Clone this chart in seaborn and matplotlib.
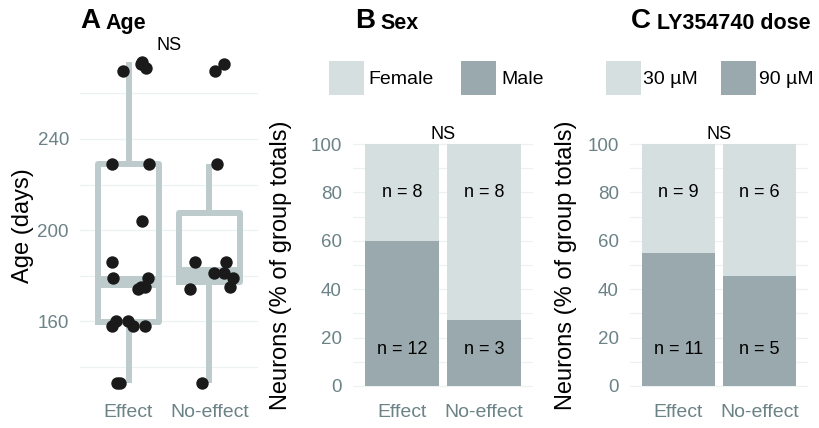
import matplotlib.pyplot as plt
import seaborn as sns
import pandas as pd
from matplotlib.patches import Patch
from matplotlib.ticker import MultipleLocator

"""
age, sex and dose of neurons with / without an effect
"""

GROUPS = ["Effect", "No-effect"]

# panel A: age (days) of every neuron, with the horizontal jitter seen in the figure
AGE_EFFECT = [133, 133, 158, 158, 158, 160, 160, 174, 175, 175,
              179, 179, 186, 204, 229, 229, 270, 271, 273, 274]
JITTER_EFFECT = [-0.14, -0.11, -0.20, 0.05, 0.20, -0.16, -0.01, 0.12, 0.20, 0.16,
                 -0.19, 0.24, -0.20, 0.17, -0.21, 0.25, -0.07, 0.21, 0.15, 0.17]
AGE_NO_EFFECT = [133, 174, 175, 179, 181, 181, 186, 186, 229, 270, 273]
JITTER_NO_EFFECT = [-0.09, -0.24, 0.25, 0.29, 0.06, 0.18, -0.18, 0.20, 0.09, 0.07, 0.18]
AGE_TICKS = [160, 200, 240]

# panel B: neuron counts by sex
SEX_LABELS = ["Female", "Male"]
SEX_FEMALE = [8, 8]
SEX_MALE = [12, 3]

# panel C: neuron counts by LY354740 dose
DOSE_LABELS = ["30 µM", "90 µM"]
DOSE_30 = [9, 6]
DOSE_90 = [11, 5]

LIGHT = "#d6dfdf"
DARK = "#99a9ad"
BOX = "#bdcbcc"
TICK = "#6b8287"
GRID = "#edf1f1"
W, H = 820, 428


def style_axis(ax):
    for s in ax.spines.values():
        s.set_visible(False)
    ax.grid(axis="y", which="both", color=GRID, linewidth=0.9)
    ax.grid(axis="x", visible=False)
    ax.set_axisbelow(True)
    ax.tick_params(length=0, which="both", labelsize=13.5, colors=TICK)
    ax.tick_params(axis="x", pad=4, labelsize=14)
    ax.tick_params(axis="y", pad=8)
    ax.set_xlim(-0.6, 1.6)
    ax.set_xlabel("")


def add_title(fig, x_px, letter, text):
    t = fig.text(x_px / W, 1 - 34 / H, letter, fontsize=20, fontweight="bold", va="bottom")
    plt.annotate(text, xy=(1, 0), xycoords=t, xytext=(4, 0), textcoords="offset points",
                 fontsize=15.5, fontweight="bold", va="bottom")


def stacked(fig, ax, low, high, labels, legend_x, key_pad, col_space):
    n_low = pd.Series(low)
    n_high = pd.Series(high)
    pct_low = 100 * n_low / (n_low + n_high)
    total = pd.DataFrame({"group": GROUPS, "pct": 100.0})
    bottom = pd.DataFrame({"group": GROUPS, "pct": pct_low})

    sns.barplot(data=total, x="group", y="pct", color=LIGHT, saturation=1, width=0.9, ax=ax)
    sns.barplot(data=bottom, x="group", y="pct", color=DARK, saturation=1, width=0.9, ax=ax)

    for i in range(len(GROUPS)):
        ax.text(i, 80, f"n = {high[i]}", ha="center", va="center", fontsize=13)
        ax.text(i, 15, f"n = {low[i]}", ha="center", va="center", fontsize=13)
    ax.text(0.5, 104, "NS", ha="center", va="center", fontsize=13)

    ax.set_ylim(-5, 105)
    ax.yaxis.set_major_locator(MultipleLocator(20))
    ax.yaxis.set_minor_locator(MultipleLocator(10))
    style_axis(ax)
    ax.set_ylabel("Neurons (% of group totals)", fontsize=17)

    handles = [Patch(facecolor=LIGHT, label=labels[0]), Patch(facecolor=DARK, label=labels[1])]
    fig.legend(handles=handles, loc="center left", bbox_to_anchor=(legend_x / W, 1 - 78 / H),
               ncol=2, frameon=False, fontsize=14, borderpad=0, borderaxespad=0,
               handlelength=1.8, handleheight=2.25, handletextpad=key_pad,
               columnspacing=col_space)


def main():
    plt.rcParams["font.family"] = ["Liberation Sans", "DejaVu Sans"]
    fig = plt.figure(figsize=(W / 100, H / 100), dpi=100)

    ax_a = fig.add_axes([80 / W, 30 / H, 178 / W, 345.5 / H])
    ax_b = fig.add_axes([353 / W, 30 / H, 180 / W, 266 / H])
    ax_c = fig.add_axes([630 / W, 30 / H, 178 / W, 266 / H])

    # panel A: box plot with the individual neurons on top
    age = pd.DataFrame({
        "group": [GROUPS[0]] * len(AGE_EFFECT) + [GROUPS[1]] * len(AGE_NO_EFFECT),
        "age": AGE_EFFECT + AGE_NO_EFFECT,
        "pos": [j for j in JITTER_EFFECT] + [1 + j for j in JITTER_NO_EFFECT],
    })
    sns.boxplot(data=age, x="group", y="age", fill=False, color=BOX, width=0.75,
                linewidth=4.3, showfliers=False, showcaps=False,
                medianprops={"linewidth": 8.6}, ax=ax_a)
    sns.scatterplot(data=age, x="pos", y="age", color="#1a1a1a", s=80, linewidth=0,
                    zorder=5, ax=ax_a, legend=False, clip_on=False)
    ax_a.text(0.5, 281, "NS", ha="center", va="center", fontsize=13, clip_on=False)
    ax_a.set_ylim(126.2, 278)
    ax_a.set_yticks(AGE_TICKS)
    ax_a.yaxis.set_minor_locator(MultipleLocator(20))
    ax_a.set_xticks([0, 1], GROUPS)
    style_axis(ax_a)
    ax_a.set_ylabel("Age (days)", fontsize=17)
    ax_a.yaxis.set_label_coords(-0.258, 0.5)

    stacked(fig, ax_b, SEX_MALE, SEX_FEMALE, SEX_LABELS, 329, 0.25, 1.4)
    ax_b.yaxis.set_label_coords(-0.339, 0.5)
    stacked(fig, ax_c, DOSE_90, DOSE_30, DOSE_LABELS, 606, 0.12, 1.2)
    ax_c.yaxis.set_label_coords(-0.298, 0.5)

    add_title(fig, 80, "A", "Age")
    add_title(fig, 355, "B", "Sex")
    add_title(fig, 631, "C", "LY354740 dose")

    fig.savefig("out.png", dpi=100)


if __name__ == '__main__':
    main()
